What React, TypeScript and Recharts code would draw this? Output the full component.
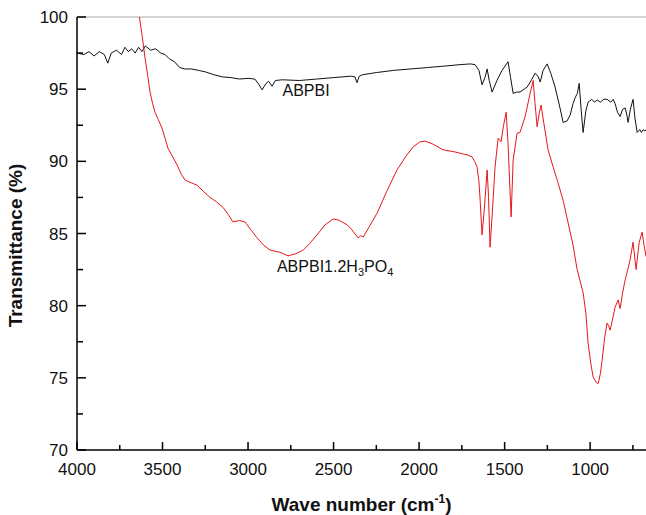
import React from "react";
import {
  LineChart,
  Line,
  XAxis,
  YAxis,
  ReferenceLine,
  ReferenceDot,
  Label,
} from "recharts";

// ABPBI (black) — wavenumber / transmittance pairs
const abpbiWave = [
  4000, 3960, 3930, 3900, 3870, 3840, 3820, 3800, 3770, 3740, 3720, 3700, 3680,
  3660, 3640, 3620, 3600, 3570, 3540, 3510, 3485, 3460, 3430, 3400, 3370, 3330,
  3290, 3250, 3200, 3150, 3100, 3050, 3000, 2960, 2935, 2918, 2895, 2880, 2860,
  2840, 2800, 2700, 2600, 2500, 2400, 2375, 2363, 2350, 2330, 2250, 2150, 2050,
  1950, 1850, 1760, 1700, 1673, 1650, 1632, 1615, 1602, 1590, 1573, 1545, 1515,
  1480, 1465, 1450, 1430, 1410, 1368, 1340, 1322, 1305, 1292, 1275, 1251, 1230,
  1205, 1180, 1158, 1135, 1117, 1100, 1088, 1075, 1064, 1052, 1041, 1025, 1012,
  990, 975, 959, 940, 920, 901, 880, 865, 854, 840, 825, 810, 795, 785, 778, 765,
  749, 738, 725, 710, 700, 690, 680, 670,
];
const abpbiT = [
  97.5, 97.4, 97.6, 97.3, 97.6, 97.4, 96.8, 97.5, 97.7, 97.4, 97.9, 97.6, 97.8,
  97.5, 97.9, 97.6, 98.0, 97.7, 97.8, 97.5, 97.4, 97.1, 96.9, 96.5, 96.4, 96.4,
  96.3, 96.2, 96.0, 95.85, 95.8, 95.7, 95.75, 95.7, 95.3, 94.95, 95.4, 95.55, 95.2,
  95.6, 95.65, 95.6, 95.7, 95.8, 95.9, 95.85, 95.45, 95.9, 96.0, 96.15, 96.3, 96.4,
  96.5, 96.6, 96.7, 96.75, 96.7, 96.3, 95.3, 95.8, 96.4, 95.6, 94.8, 95.6, 96.3,
  96.9, 95.8, 94.7, 94.8, 94.8, 95.15, 95.7, 96.1, 95.9, 95.5, 96.3, 96.75, 96.1,
  95.15, 93.9, 92.7, 92.8, 93.2, 94.0, 94.4, 94.7, 95.4, 93.5, 92.0, 93.5, 94.1,
  94.3, 94.1, 94.25, 94.1, 94.3, 94.3, 94.1, 94.3, 94.0, 93.4, 93.1, 93.6, 93.7,
  93.2, 92.7, 93.6, 94.3, 93.0, 92.0, 92.2, 92.0, 92.2, 92.1, 92.2,
];

// ABPBI1.2H3PO4 (red)
const dopedWave = [
  3635, 3618, 3602, 3585, 3573, 3558, 3544, 3525, 3503, 3485, 3468, 3440, 3415,
  3390, 3368, 3330, 3298, 3260, 3222, 3185, 3146, 3115, 3088, 3050, 3018, 2980,
  2947, 2910, 2871, 2813, 2766, 2720, 2678, 2640, 2597, 2550, 2503, 2475, 2450,
  2420, 2392, 2370, 2357, 2340, 2327, 2290, 2246, 2190, 2129, 2080, 2035, 1995,
  1965, 1920, 1860, 1790, 1740, 1719, 1690, 1675, 1661, 1650, 1643, 1632, 1620,
  1602, 1594, 1585, 1570, 1556, 1538, 1521, 1506, 1491, 1480, 1462, 1450, 1427,
  1410, 1380, 1351, 1333, 1322, 1310, 1298, 1287, 1270, 1246, 1216, 1190, 1158,
  1130, 1100, 1076, 1041, 1025, 1012, 995, 982, 965, 953, 940, 930, 915, 901, 892,
  883, 870, 854, 836, 825, 810, 795, 780, 766, 749, 740, 731, 722, 713, 696, 685,
  673,
];
const dopedT = [
  100.0, 98.6, 97.15, 95.8, 94.8, 94.0, 93.4, 92.9, 92.3, 91.6, 90.9, 90.3, 89.75,
  89.1, 88.7, 88.5, 88.35, 87.9, 87.5, 87.2, 86.8, 86.3, 85.8, 85.9, 85.8, 85.2,
  84.7, 84.2, 83.85, 83.7, 83.45, 83.6, 83.85, 84.3, 84.9, 85.6, 86.0, 85.95, 85.8,
  85.6, 85.25, 84.9, 84.7, 84.85, 84.75, 85.5, 86.4, 87.9, 89.4, 90.3, 91.0, 91.35,
  91.4, 91.2, 90.8, 90.65, 90.5, 90.45, 90.3, 90.0, 89.6, 88.6, 87.3, 84.9, 86.5,
  89.4, 87.5, 84.05, 86.8, 89.6, 91.6, 91.35, 92.5, 93.4, 91.25, 86.15, 90.1, 91.95,
  92.0, 93.1, 94.7, 95.6, 94.0, 92.4, 93.3, 93.9, 92.6, 90.8, 89.6, 88.6, 87.3,
  85.8, 84.2, 82.5, 80.9, 79.5, 77.4, 75.9, 75.05, 74.7, 74.6, 75.3, 76.2, 77.8,
  78.8, 78.6, 78.3, 79.0, 79.9, 80.4, 79.8, 80.9, 81.8, 82.5, 83.2, 84.4, 83.4,
  82.5, 83.5, 84.4, 85.1, 84.2, 83.4,
];

const xTicks = [
  4000, 3750, 3500, 3250, 3000, 2750, 2500, 2250, 2000, 1750, 1500, 1250, 1000, 750,
];
const yTicks = [70, 72.5, 75, 77.5, 80, 82.5, 85, 87.5, 90, 92.5, 95, 97.5, 100];

const abpbiData = abpbiWave.map((w, i) => ({ w, t: abpbiT[i] }));
const dopedData = dopedWave.map((w, i) => ({ w, t: dopedT[i] }));

const FONT = "'Liberation Sans', Arial, sans-serif";

const XTick = (props: any) => {
  const { x, y, payload } = props;
  const v = payload.value as number;
  const major = v % 500 === 0;
  return (
    <g>
      <line x1={x} x2={x} y1={y} y2={y - (major ? 8 : 5)} stroke="#000" strokeWidth={1.5} />
      {major && (
        <text x={x} y={y + 25} textAnchor="middle" fontSize={17} fill="#111" fontFamily={FONT}>
          {v}
        </text>
      )}
    </g>
  );
};

const YTick = (props: any) => {
  const { x, y, payload } = props;
  const v = payload.value as number;
  const major = v % 5 === 0;
  return (
    <g>
      <line x1={x} x2={x + (major ? 9 : 6)} y1={y} y2={y} stroke="#000" strokeWidth={1.5} />
      {major && (
        <text x={x - 9} y={y + 6} textAnchor="end" fontSize={17} fill="#111" fontFamily={FONT}>
          {v}
        </text>
      )}
    </g>
  );
};

export default function App() {
  return (
    <div
      style={{
        position: "fixed",
        left: 0,
        top: 0,
        width: 646,
        height: 515,
        overflow: "hidden",
        background: "#fff",
      }}
    >
      <LineChart width={650} height={515} margin={{ top: 17, right: 0, bottom: 0, left: 0 }}>
        <XAxis
          type="number"
          dataKey="w"
          domain={[650, 4000]}
          reversed
          allowDataOverflow
          ticks={xTicks}
          interval={0}
          tick={XTick}
          tickLine={false}
          tickSize={0}
          tickMargin={0}
          height={65}
          axisLine={{ stroke: "#000", strokeWidth: 1.5 }}
        >
          <Label
            content={({ viewBox }: any) => (
              <text
                x={viewBox.x + viewBox.width / 2 - 2}
                y={viewBox.y + 61}
                textAnchor="middle"
                fontSize={19}
                fontWeight="bold"
                fill="#111"
                fontFamily={FONT}
              >
                Wave number (cm
                <tspan dy={-8} fontSize={12}>
                  -1
                </tspan>
                <tspan dy={8}>)</tspan>
              </text>
            )}
          />
        </XAxis>
        <YAxis
          type="number"
          domain={[70, 100]}
          allowDataOverflow
          ticks={yTicks}
          interval={0}
          tick={YTick}
          tickLine={false}
          tickSize={0}
          tickMargin={0}
          width={77}
          axisLine={{ stroke: "#000", strokeWidth: 1.5 }}
        >
          <Label
            content={({ viewBox }: any) => (
              <text
                transform={`translate(22, ${viewBox.y + viewBox.height / 2 + 12}) rotate(-90)`}
                textAnchor="middle"
                fontSize={19}
                fontWeight="bold"
                fill="#111"
                fontFamily={FONT}
              >
                Transmittance (%)
              </text>
            )}
          />
        </YAxis>
        <ReferenceLine y={100} stroke="#aaa" strokeWidth={1} />
        <Line
          data={abpbiData}
          dataKey="t"
          stroke="#111"
          strokeWidth={1}
          dot={false}
          activeDot={false}
          isAnimationActive={false}
        />
        <Line
          data={dopedData}
          dataKey="t"
          stroke="#e8161b"
          strokeWidth={1}
          dot={false}
          activeDot={false}
          isAnimationActive={false}
        />
        <ReferenceDot
          x={2661}
          y={94.53}
          r={0}
          stroke="none"
          label={({ viewBox }: any) => (
            <text x={viewBox.x} y={viewBox.y} textAnchor="middle" fontSize={16} fill="#111" fontFamily={FONT}>
              ABPBI
            </text>
          )}
        />
        <ReferenceDot
          x={2491}
          y={82.33}
          r={0}
          stroke="none"
          label={({ viewBox }: any) => (
            <text x={viewBox.x} y={viewBox.y} textAnchor="middle" fontSize={16} fill="#111" fontFamily={FONT}>
              ABPBI1.2H
              <tspan dy={4} fontSize={11}>
                3
              </tspan>
              <tspan dy={-4}>PO</tspan>
              <tspan dy={4} fontSize={11}>
                4
              </tspan>
            </text>
          )}
        />
      </LineChart>
    </div>
  );
}
